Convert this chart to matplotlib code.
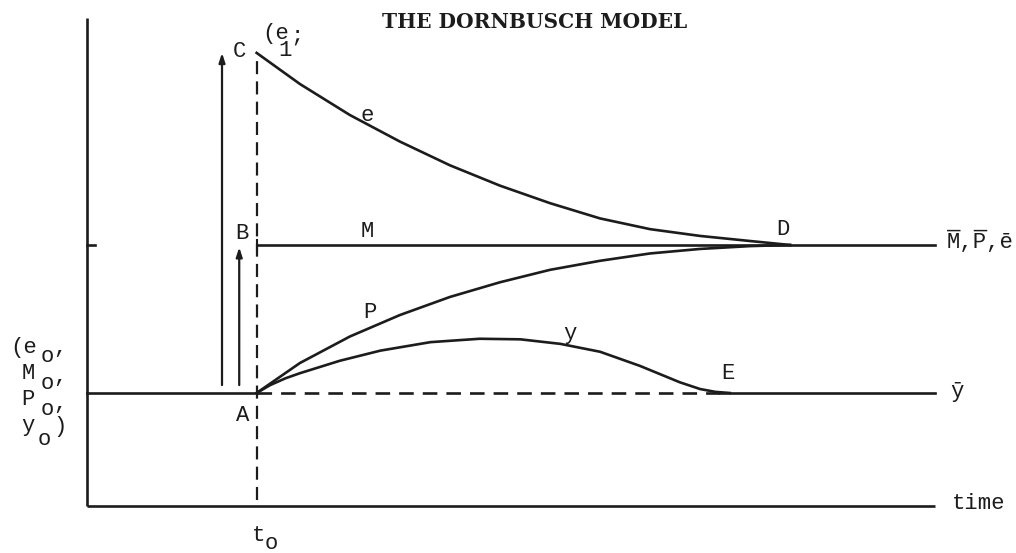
import matplotlib
matplotlib.use("Agg")
from matplotlib import pyplot as plt

# Zeit- und Niveauwerte
t0 = 2.0
t_end = 10.0
t_E = 7.45
level_0 = 2.0      # (e0, M0, P0, y0)
level_bar = 4.62   # M, P, e im neuen Gleichgewicht
axis_top = 8.64

e_t = [2.0, 2.51, 3.10, 3.69, 4.28, 4.87, 5.46, 6.05, 6.64, 7.23, 7.82, 8.29]
e_values = [8.02, 7.47, 6.92, 6.45, 6.03, 5.67, 5.36, 5.09, 4.90, 4.78, 4.69, 4.62]

p_t = [2.0, 2.51, 3.10, 3.69, 4.28, 4.87, 5.46, 6.05, 6.64, 7.23, 7.82, 8.29]
p_values = [2.00, 2.53, 3.00, 3.38, 3.70, 3.96, 4.18, 4.34, 4.47, 4.55, 4.60, 4.62]

y_t = [2.0, 2.16, 2.34, 2.51, 2.98, 3.46, 4.05, 4.63, 5.11, 5.58, 6.05, 6.52, 6.99, 7.23, 7.41, 7.58]
y_values = [2.00, 2.14, 2.26, 2.35, 2.57, 2.75, 2.90, 2.96, 2.95, 2.87, 2.73, 2.48, 2.19, 2.07, 2.02, 2.00]

arrow_c = (1.592, 2.14, 8.02)   # t, von, bis
arrow_b = (1.795, 2.14, 4.58)

# Beschriftungen: (t, Niveau, Text, Ausrichtung)
point_labels = [
    (1.80, 8.04, "C", "center"),
    (3.30, 6.92, "e", "center"),
    (3.31, 4.85, "M", "center"),
    (1.83, 4.83, "B", "center"),
    (8.21, 4.90, "D", "center"),
    (10.14, 4.67, "M,P,\u0113", "left"),
    (3.34, 3.42, "P", "center"),
    (5.70, 3.06, "y", "center"),
    (7.56, 2.35, "E", "center"),
    (10.18, 2.02, "\u0233", "left"),
    (1.83, 1.61, "A", "center"),
    (10.2, 0.05, "time", "left"),
]
# Teile mit Tiefstellung, jeweils einzeln gesetzt
sub_parts = [
    (2.07, 8.37, "(e", "left"), (2.33, 8.07, "1", "center"), (2.47, 8.32, ";", "center"),
    (2.02, -0.52, "t", "center"), (2.17, -0.67, "o", "center"),
    (-0.91, 2.81, "(e", "left"), (-0.47, 2.64, "o", "center"), (-0.32, 2.80, ",", "center"),
    (-0.77, 2.35, "M", "left"), (-0.47, 2.16, "o", "center"), (-0.32, 2.30, ",", "center"),
    (-0.77, 1.88, "P", "left"), (-0.47, 1.70, "o", "center"), (-0.32, 1.82, ",", "center"),
    (-0.77, 1.43, "y", "left"), (-0.50, 1.17, "o", "center"), (-0.32, 1.40, ")", "center"),
]

INK = "#1c1c1c"
MONO = ["Liberation Mono", "DejaVu Sans Mono"]
FS = 16

plt.rcParams["lines.scale_dashes"] = False

fig = plt.figure(figsize=(10.16, 5.53), dpi=100)
ax = fig.add_axes([0, 0, 1, 1])
ax.set_xlim(-1.026, 10.955)
ax.set_ylim(-0.832, 8.956)
ax.axis("off")

lw = 1.9

# Achsen
ax.plot([0, 0], [0, axis_top], color=INK, lw=lw, solid_capstyle="butt")
ax.plot([0, t_end], [0, 0], color=INK, lw=lw, solid_capstyle="butt")
ax.plot([0, 0.095], [level_bar, level_bar], color=INK, lw=lw)

# t0 senkrecht gestrichelt
ax.plot([t0, t0], [0.1, 7.9], color=INK, lw=1.6, dashes=(9.4, 5.2))

# Ausgangsniveau und y-quer
ax.plot([0, t0], [level_0, level_0], color=INK, lw=lw)
ax.plot([t0, t_E], [level_0, level_0], color=INK, lw=lw, dashes=(10.5, 6.5))
ax.plot([t_E, t_end], [level_0, level_0], color=INK, lw=lw)

# M-Linie mit kleinem Anfangsstrich
ax.plot([t0, t_end], [level_bar, level_bar], color=INK, lw=lw)
ax.plot([t0, t0], [level_bar - 0.09, level_bar + 0.09], color=INK, lw=1.5)

# Kurven e, P, y
ax.plot(e_t, e_values, color=INK, lw=lw, solid_joinstyle="round")
ax.plot(p_t, p_values, color=INK, lw=lw, solid_joinstyle="round")
ax.plot(y_t, y_values, color=INK, lw=lw, solid_joinstyle="round")

# Pfeile
for t, v_from, v_to in [arrow_c, arrow_b]:
    ax.annotate("", xy=(t, v_to), xytext=(t, v_from),
                arrowprops=dict(arrowstyle="-|>,head_length=0.55,head_width=0.18",
                                color=INK, lw=1.6, shrinkA=0, shrinkB=0))

ax.text(5.28, 8.57, "THE DORNBUSCH MODEL", fontsize=14.5, fontweight="bold",
        family=["DejaVu Serif"], color=INK, ha="center", va="center")

for t, v, s, ha in point_labels + sub_parts:
    ax.text(t, v, s, fontsize=FS, family=MONO, color=INK, ha=ha, va="center")

# Querstriche ueber M und P (gleiche Zeichenbreite wie die Schrift)
ax.text(10.14, 4.655, "\u00af \u00af  ", fontsize=FS, family=MONO, color=INK,
        ha="left", va="center")

fig.savefig("out.png", dpi=100)
plt.close(fig)
